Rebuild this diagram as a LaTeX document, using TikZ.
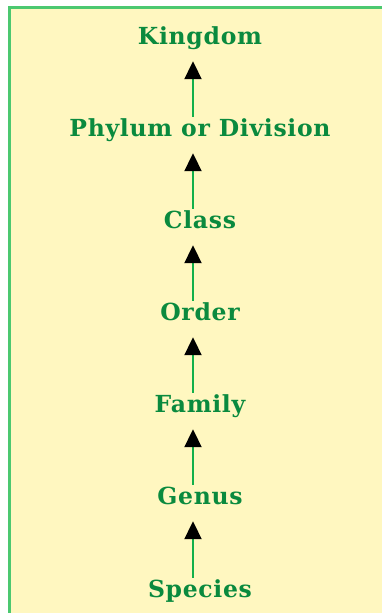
\documentclass[tikz,border=0pt]{standalone}
\usepackage{fontspec}
\setmainfont{DejaVu Serif}
\usetikzlibrary{arrows.meta}
\definecolor{panelfill}{HTML}{FFF7C0}
\definecolor{panelline}{HTML}{4CC870}
\definecolor{rankgreen}{HTML}{0A8A3E}
\definecolor{arrowgreen}{HTML}{12B04A}
\tikzset{
  x=1pt, y=1pt,
  rank/.style={inner sep=0pt, anchor=base, text height=20pt, text depth=16pt,
    text=rankgreen, font=\fontsize{23.5}{27}\selectfont\bfseries\addfontfeature{LetterSpace=3}},
  uparrow/.style={draw=arrowgreen, line width=2pt,
    -{Triangle[width=17pt,length=18pt,black]}}
}
\begin{document}
\begin{tikzpicture}
\useasboundingbox (0,0) rectangle (382,613);
\fill[white] (0,0) rectangle (382,613);
\fill[panelfill] (9.5,-10) rectangle (395,605.5);
\draw[panelline, line width=2.2pt] (9.5,-10) -- (9.5,605.5) -- (395,605.5);
\node[rank] (kingdom) at (200,568) {Kingdom};
\node[rank] (phylum)  at (200,476) {Phylum or Division};
\node[rank] (class)   at (200,384) {Class};
\node[rank] (order)   at (200,292) {Order};
\node[rank] (family)  at (200,200) {Family};
\node[rank] (genus)   at (200,108) {Genus};
\node[rank] (species) at (200,15)  {Species};
\foreach \lo/\hi in {species/genus, genus/family, family/order, order/class, class/phylum, phylum/kingdom}
  \draw[uparrow] ([xshift=-7pt]\lo.north) -- ([xshift=-7pt]\hi.south);
\end{tikzpicture}
\end{document}
